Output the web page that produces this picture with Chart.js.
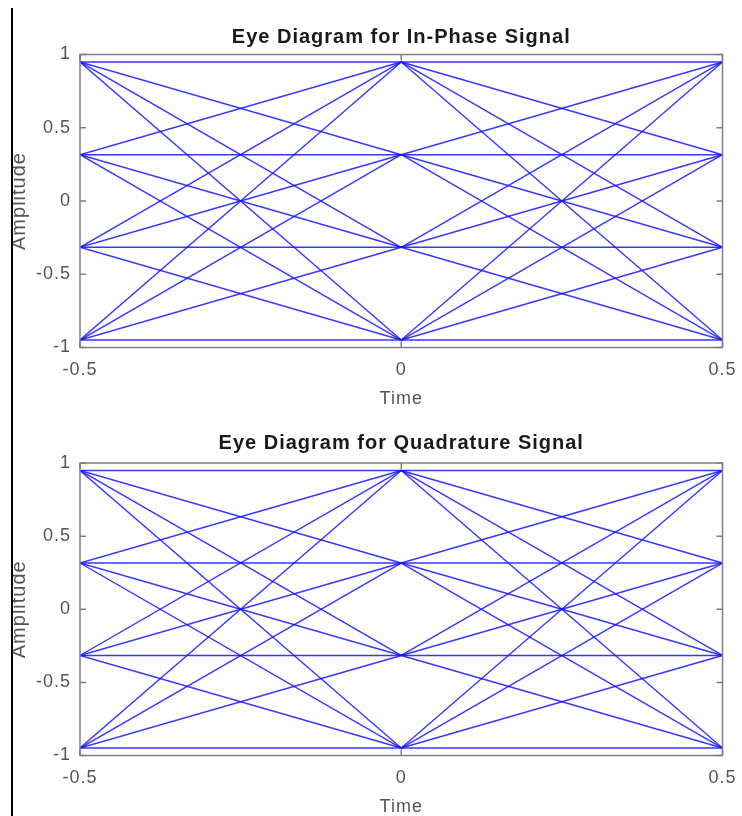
<!DOCTYPE html>
<html>
<head>
<meta charset="utf-8">
<script src="https://cdn.jsdelivr.net/npm/chart.js@4.4.1/dist/chart.umd.min.js"></script>
<style>
  body { margin: 0; background: #fff; width: 742px; height: 816px; overflow: hidden; position: relative; }
  .cv-frame { position: absolute; left: 0; width: 742px; height: 408px; }
  #edge { position: absolute; left: 0; top: 0; width: 11px; height: 816px; background: #fff; }
  #rule { position: absolute; left: 11px; top: 8px; width: 2px; height: 808px; background: #000; }
</style>
</head>
<body>
<div class="cv-frame" style="top:0"><canvas id="eyeI"></canvas></div>
<div class="cv-frame" style="top:408px"><canvas id="eyeQ"></canvas></div>
<div id="edge"></div>
<div id="rule"></div>
<script>
// symbol levels seen at the sampling instants (same for I and Q)
const inPhaseLevels = [-0.949, -0.316, 0.316, 0.949];
const quadratureLevels = [-0.949, -0.316, 0.316, 0.949];
// trace windows: each half of the eye goes from one symbol instant to the next
const traceWindows = [[-0.5, 0], [0, 0.5]];
const timeTicks = [-0.5, 0, 0.5];
const ampTicks = [-1, -0.5, 0, 0.5, 1];

const axisGray = '#808080';
const labelGray = '#555555';
const traceBlue = 'rgba(20,20,255,0.85)';
const fontFamily = 'Liberation Sans, Arial, sans-serif';

// one dataset per transition (level a -> level b) in each window
function buildTraces(levels) {
  const sets = [];
  traceWindows.forEach(([t0, t1]) => {
    levels.forEach(a => {
      levels.forEach(b => {
        sets.push({
          data: [{ x: t0, y: a }, { x: t1, y: b }],
          showLine: true,
          borderColor: traceBlue,
          borderWidth: 1.4,
          pointRadius: 0,
          fill: false
        });
      });
    });
  });
  return sets;
}

// the original text is a bit wider than Arial, open it up a little
const spacingPlugin = {
  id: 'spacing',
  beforeUpdate(chart) { chart.ctx.letterSpacing = '1px'; },
  beforeDraw(chart) { chart.ctx.letterSpacing = '1px'; }
};

// box round the plot plus inward tick marks, like the original
const boxPlugin = {
  id: 'box',
  afterDatasetsDraw(chart) {
    const { ctx, chartArea: a, scales: { x, y } } = chart;
    ctx.save();
    ctx.strokeStyle = axisGray;
    ctx.lineWidth = 1.5;
    ctx.strokeRect(a.left, a.top, a.width, a.height);
    ctx.beginPath();
    timeTicks.forEach(v => {
      const px = x.getPixelForValue(v);
      ctx.moveTo(px, a.bottom); ctx.lineTo(px, a.bottom - 6);
      ctx.moveTo(px, a.top); ctx.lineTo(px, a.top + 6);
    });
    ampTicks.forEach(v => {
      const py = y.getPixelForValue(v);
      ctx.moveTo(a.left, py); ctx.lineTo(a.left + 6, py);
      ctx.moveTo(a.right, py); ctx.lineTo(a.right - 6, py);
    });
    ctx.stroke();
    ctx.restore();
  }
};

function makeEye(id, title, levels, topPad, titleGap) {
  const ctx = document.getElementById(id).getContext('2d');
  return new Chart(ctx, {
    type: 'scatter',
    data: { datasets: buildTraces(levels) },
    options: {
      responsive: true,
      maintainAspectRatio: false,
      animation: false,
      layout: { padding: { top: topPad, right: 19.5, left: 0, bottom: 0 } },
      plugins: {
        legend: { display: false },
        tooltip: { enabled: false },
        title: {
          display: true,
          fullSize: false,
          text: title,
          color: '#1a1a1a',
          font: { family: fontFamily, size: 20, weight: 'bold', lineHeight: 1.2 },
          padding: { top: 0, bottom: titleGap }
        }
      },
      scales: {
        x: {
          type: 'linear',
          min: -0.5,
          max: 0.5,
          afterBuildTicks: s => { s.ticks = timeTicks.map(v => ({ value: v })); },
          afterFit: s => { s.height = 60.5; s.paddingLeft = 0; s.paddingRight = 0; },
          grid: { display: false, drawTicks: false },
          border: { display: false },
          ticks: {
            color: labelGray,
            padding: 12,
            font: { family: fontFamily, size: 18 },
            callback: v => String(v)
          },
          title: {
            display: true,
            text: 'Time',
            color: labelGray,
            font: { family: fontFamily, size: 18, lineHeight: 1.0 },
            padding: { top: 0, bottom: 0 }
          }
        },
        y: {
          type: 'linear',
          min: -1,
          max: 1,
          afterBuildTicks: s => { s.ticks = ampTicks.map(v => ({ value: v })); },
          afterFit: s => { s.width = 80; },
          grid: { display: false, drawTicks: false },
          border: { display: false },
          ticks: {
            color: labelGray,
            padding: 9,
            font: { family: fontFamily, size: 18 },
            callback: v => String(v)
          },
          title: {
            display: true,
            text: 'Amplitude',
            color: labelGray,
            font: { family: fontFamily, size: 20, lineHeight: 1.2 },
            padding: { top: 7.5, bottom: 0 }
          }
        }
      }
    },
    plugins: [spacingPlugin, boxPlugin]
  });
}

makeEye('eyeI', 'Eye Diagram for In-Phase Signal', inPhaseLevels, 25, 5.5);
makeEye('eyeQ', 'Eye Diagram for Quadrature Signal', quadratureLevels, 23, 8);
</script>
</body>
</html>
